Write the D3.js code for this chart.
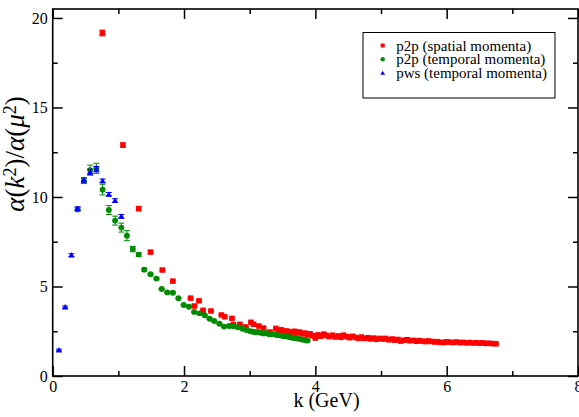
<!DOCTYPE html>
<html>
<head>
<meta charset="utf-8">
<script src="https://cdn.jsdelivr.net/npm/d3@7"></script>
</head>
<body style="margin:0; background:#fff">
<div id="chartContainer"></div>
<script>
const width = 579;
const height = 417;
const marginTop = 9;
const marginRight = 1;
const marginBottom = 41;
const marginLeft = 52.7;
const serif = "Liberation Serif";

// p2p (spatial momenta)
const redK = [0.756, 1.07, 1.31, 1.49, 1.67, 1.83, 2.10, 2.157, 2.228, 2.29, 2.41, 2.57, 2.62, 2.73, 2.75, 2.85, 2.94, 3.02, 3.06, 3.14, 3.21, 3.31, 3.40, 3.44,
  3.48, 3.52, 3.56, 3.60, 3.64, 3.68, 3.72, 3.76, 3.80, 3.84, 3.88, 3.92, 3.96, 4.00, 4.04, 4.08, 4.13, 4.17, 4.21, 4.26, 4.30, 4.35, 4.39, 4.43, 4.48,
  4.52, 4.57, 4.61, 4.66, 4.70, 4.75, 4.80, 4.84, 4.89, 4.93, 4.98, 5.03, 5.07, 5.12, 5.17, 5.21, 5.26, 5.30, 5.35, 5.40, 5.44, 5.49, 5.54, 5.58, 5.63,
  5.68, 5.72, 5.77, 5.82, 5.86, 5.91, 5.96, 6.00, 6.05, 6.10, 6.15, 6.20, 6.25, 6.30, 6.35, 6.40, 6.45, 6.50, 6.55, 6.60, 6.65, 6.70, 6.75];
const redV = [19.16, 12.9, 9.35, 6.92, 5.92, 5.3, 4.35, 3.91, 4.2, 3.67, 3.63, 3.41, 3.31, 3.22, 2.87, 2.89, 2.74, 3.0, 2.89, 2.79, 2.68, 2.46, 2.66, 2.53,
  2.58, 2.45, 2.52, 2.47, 2.42, 2.5, 2.4, 2.46, 2.35, 2.4, 2.3, 2.36, 2.25, 2.12, 2.3, 2.22, 2.34, 2.26, 2.2, 2.28, 2.18, 2.24, 2.16, 2.28, 2.2,
  2.14, 2.22, 2.15, 2.1, 2.18, 2.1, 2.14, 2.07, 2.12, 2.05, 2.1, 2.06, 2.1, 2.02, 2.07, 2.0, 2.04, 1.95, 2.0, 2.03, 1.97, 1.99, 1.94, 1.98, 1.95,
  1.92, 1.96, 1.93, 1.9, 1.92, 1.88, 1.87, 1.91, 1.89, 1.87, 1.9, 1.86, 1.88, 1.85, 1.87, 1.84, 1.86, 1.83, 1.85, 1.82, 1.83, 1.81, 1.8];
const redErr = [0.16, 0.12, 0.12, 0.08, 0.06, 0.05];

// p2p (temporal momenta)
const greenK = [0.38, 0.475, 0.57, 0.665, 0.76, 0.855, 0.95, 1.045, 1.13, 1.22, 1.31, 1.395, 1.49, 1.58, 1.66, 1.745, 1.83, 1.915, 1.995, 2.075,
  2.155, 2.235, 2.315, 2.39, 2.46, 2.54, 2.61, 2.685, 2.75, 2.82, 2.89, 2.95, 3.01, 3.05, 3.09, 3.13, 3.17, 3.21, 3.25, 3.29, 3.33, 3.37, 3.41,
  3.45, 3.49, 3.53, 3.57, 3.61, 3.65, 3.69, 3.73, 3.77, 3.81, 3.85, 3.88];
const greenV = [9.3, 10.9, 11.5, 11.6, 10.41, 9.27, 8.68, 8.29, 7.84, 7.09, 6.78, 5.94, 5.68, 5.44, 4.86, 4.67, 4.65, 4.34, 3.97, 3.87,
  3.58, 3.5, 3.39, 3.2, 3.07, 2.92, 2.76, 2.79, 2.78, 2.72, 2.64, 2.57, 2.5, 2.47, 2.44, 2.46, 2.41, 2.38, 2.4, 2.35, 2.33, 2.34, 2.29,
  2.27, 2.25, 2.22, 2.2, 2.17, 2.14, 2.12, 2.09, 2.06, 2.03, 2.0, 1.98];
const greenErr = [0.1, 0.15, 0.28, 0.28, 0.3, 0.25, 0.25, 0.25, 0.28, 0.15, 0.1, 0.08, 0.06, 0.05];

// pws (temporal momenta)
const blueK = [0.095, 0.19, 0.285, 0.38, 0.475, 0.57, 0.665, 0.76, 0.855, 0.95, 1.045];
const blueV = [1.45, 3.85, 6.75, 9.35, 10.95, 11.4, 11.55, 10.9, 10.15, 9.8, 8.92];
const blueErr = [0.05, 0.06, 0.08, 0.1, 0.12, 0.15, 0.15, 0.1, 0.1, 0.1, 0.1];

const xMajor = [0, 2, 4, 6, 8];
const xMinor = [1, 3, 5, 7];
const yMajor = [0, 5, 10, 15, 20];
const yMinor = [2.5, 7.5, 12.5, 17.5];

const legendLabels = ["p2p (spatial momenta)", "p2p (temporal momenta)", "pws (temporal momenta)"];
const colors = ["#ff0000", "#008b00", "#0000ff"];

const toPoints = (ks, vs, errs) => ks.map((k, i) => ({ k: k, v: vs[i], e: errs[i] || 0.03 }));
const series = [
    { name: "red", shape: "square", color: colors[0], data: toPoints(redK, redV, redErr) },
    { name: "green", shape: "circle", color: colors[1], data: toPoints(greenK, greenV, greenErr) },
    { name: "blue", shape: "triangle", color: colors[2], data: toPoints(blueK, blueV, blueErr) }
];

const x = d3.scaleLinear().domain([0, 8]).range([marginLeft, width - marginRight]);
const y = d3.scaleLinear().domain([0, 20.5]).range([height - marginBottom, marginTop]);

const svg = d3.select("#chartContainer")
    .append("svg")
    .attr("width", width)
    .attr("height", height)
    .attr("font-family", serif);

// axes, ticks pointing inward on all four sides
function drawAxis(axisFn, scale, major, minor, transform, labels) {
    const g = svg.append("g").attr("transform", transform);
    g.call(axisFn(scale).tickValues(major).tickSize(-10).tickSizeOuter(0).tickPadding(5)
        .tickFormat(labels ? d3.format("d") : ""));
    const gm = svg.append("g").attr("transform", transform);
    gm.call(axisFn(scale).tickValues(minor).tickSize(-5).tickSizeOuter(0).tickFormat(""));
    [g, gm].forEach(s => {
        s.attr("font-family", serif).attr("font-size", 16);
        s.select(".domain").remove();
        s.selectAll("line").attr("stroke", "#000").attr("stroke-width", 1.5);
    });
    g.selectAll("text").attr("fill", "#000").attr("font-family", serif).attr("font-size", 16);
}
drawAxis(d3.axisBottom, x, xMajor, xMinor, `translate(0,${height - marginBottom})`, true);
drawAxis(d3.axisTop, x, xMajor, xMinor, `translate(0,${marginTop})`, false);
drawAxis(d3.axisLeft, y, yMajor, yMinor, `translate(${marginLeft},0)`, true);
drawAxis(d3.axisRight, y, yMajor, yMinor, `translate(${width - marginRight},0)`, false);

svg.append("rect")
    .attr("x", x(0))
    .attr("y", y(20.5))
    .attr("width", x(8) - x(0))
    .attr("height", y(0) - y(20.5))
    .attr("fill", "none")
    .attr("stroke", "#000")
    .attr("stroke-width", 1.6);

function marker(sel, shape, size) {
    if (shape === "square") {
        return sel.append("rect").attr("x", -size / 2).attr("y", -size / 2).attr("width", size).attr("height", size);
    } else if (shape === "circle") {
        return sel.append("circle").attr("r", size / 2 + 0.2);
    }
    const h = size * 0.95;
    return sel.append("path").attr("d", `M0,${-h * 0.6}L${size / 2 + 0.4},${h * 0.45}L${-size / 2 - 0.4},${h * 0.45}Z`);
}

series.forEach(s => {
    const g = svg.append("g").attr("fill", s.color).attr("stroke", s.color);
    const pts = g.selectAll("g.pt")
        .data(s.data)
        .enter()
        .append("g")
        .attr("class", "pt")
        .attr("transform", d => `translate(${x(d.k)},${y(d.v)})`);
    // error bars
    pts.append("path")
        .attr("fill", "none")
        .attr("stroke-width", 1)
        .attr("d", d => {
            const t = y(d.v + d.e) - y(d.v);
            const b = y(d.v - d.e) - y(d.v);
            return `M0,${t}V${b}M-3,${t}H3M-3,${b}H3`;
        });
    pts.each(function() {
        marker(d3.select(this), s.shape, 5.5).attr("stroke", "none");
    });
});

// legend
const legend = svg.append("g");
legend.append("rect")
    .attr("x", 363)
    .attr("y", 32.5)
    .attr("width", 192)
    .attr("height", 65.5)
    .attr("fill", "#fff")
    .attr("stroke", "#000")
    .attr("stroke-width", 1);

const items = legend.selectAll(".legend")
    .data(series)
    .enter()
    .append("g")
    .attr("class", "legend")
    .attr("transform", (d, i) => `translate(382.7,${45.5 + i * 13.8})`);

items.each(function(d) {
    marker(d3.select(this), d.shape, 4).attr("fill", d.color);
});

items.append("text")
    .attr("x", 13.5)
    .attr("y", 5)
    .attr("font-family", serif)
    .attr("font-size", 15)
    .attr("fill", "#000")
    .text((d, i) => legendLabels[i]);

// axis labels
svg.append("text")
    .attr("x", 326.5)
    .attr("y", 407)
    .attr("text-anchor", "middle")
    .attr("font-family", serif)
    .attr("font-size", 20)
    .text("k (GeV)");

const ylab = svg.append("text")
    .attr("transform", "translate(24,154) rotate(-90)")
    .attr("text-anchor", "middle")
    .attr("font-family", serif)
    .attr("font-size", 27);
const parts = [["α", "italic"], ["(", "normal"], ["k", "italic"], ["2", "sup"], [")", "down"], ["/", "normal"],
    ["α", "italic"], ["(", "normal"], ["μ", "italic"], ["2", "sup"], [")", "down"]];
parts.forEach(p => {
    const t = ylab.append("tspan").text(p[0]);
    if (p[1] === "italic") t.attr("font-style", "italic");
    if (p[1] === "sup") t.attr("dy", "-0.45em").attr("font-size", 18);
    if (p[1] === "down") t.attr("dy", "0.3em");
});
</script>
</body>
</html>
